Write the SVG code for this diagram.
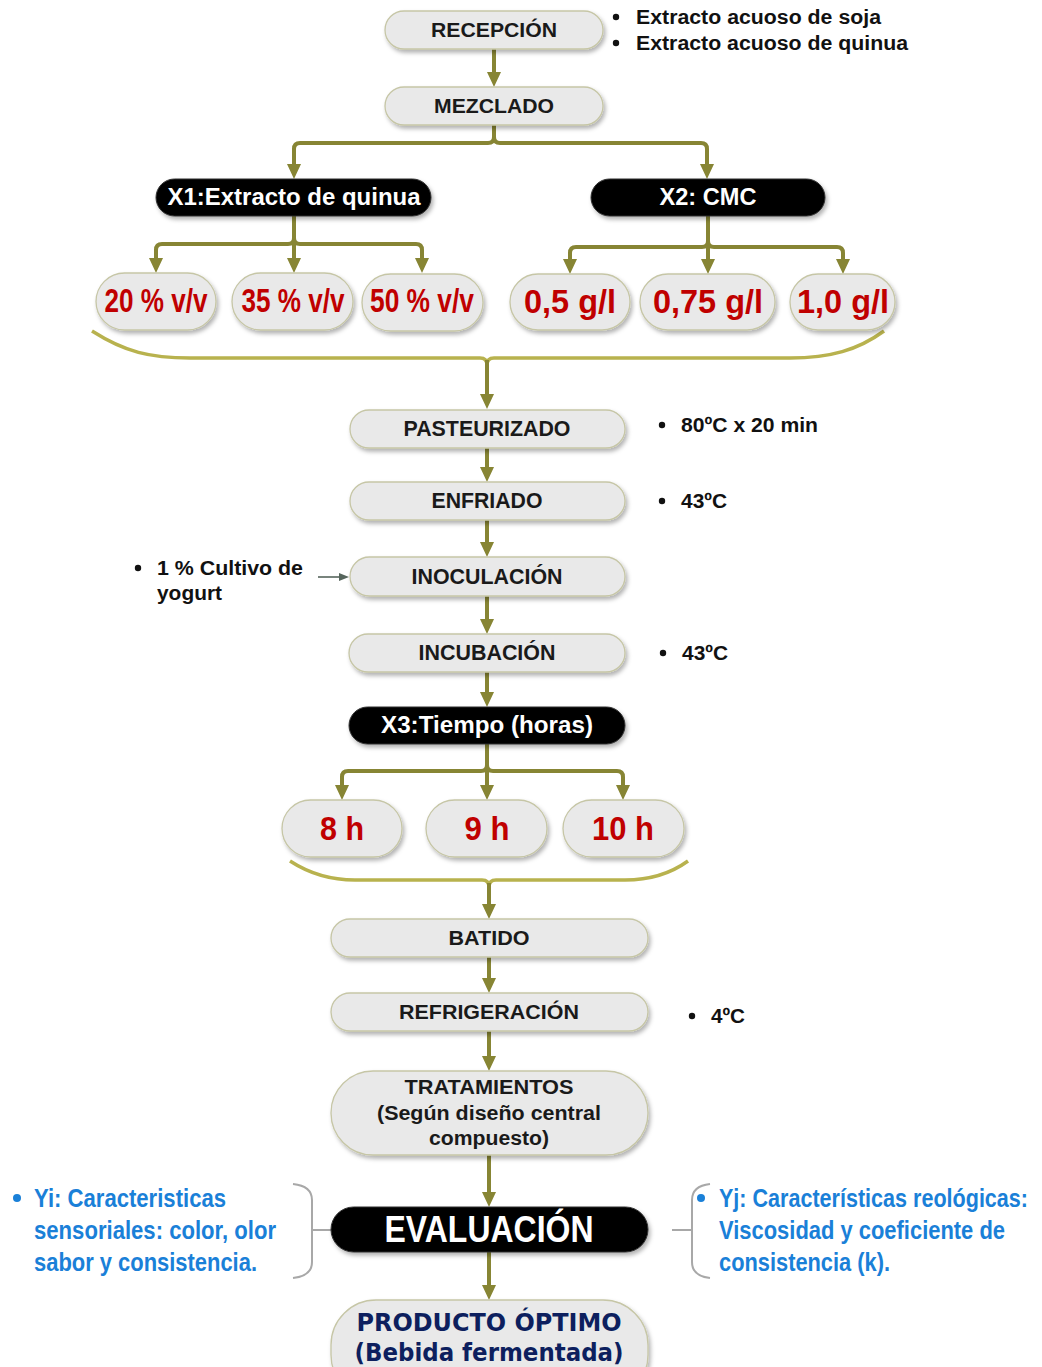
<svg xmlns="http://www.w3.org/2000/svg" width="1042" height="1367" viewBox="0 0 1042 1367">
<defs>
<filter id="sh" x="-10%" y="-20%" width="120%" height="150%">
<feDropShadow dx="2" dy="3" stdDeviation="2" flood-color="#000" flood-opacity="0.3"/>
</filter>
<marker id="ah" viewBox="0 0 15 14" refX="7" refY="7" markerWidth="15" markerHeight="14" markerUnits="userSpaceOnUse" orient="auto">
<path d="M0,0 L15,7 L0,14 z" fill="#878534"/>
</marker>
<marker id="ahg" viewBox="0 0 10 8" refX="4" refY="4" markerWidth="10" markerHeight="8" markerUnits="userSpaceOnUse" orient="auto">
<path d="M0,0 L10,4 L0,8 z" fill="#56655c"/>
</marker>
<style>
.n{fill:#e9e9e9;stroke:#c6c6a6;stroke-width:1.3;filter:url(#sh)}
.b{fill:#000;stroke:#333;stroke-width:1;filter:url(#sh)}
.t{font-family:"Liberation Sans",Arial,sans-serif;font-weight:bold;font-size:20px;fill:#1a1a1a;text-anchor:middle}
.tn{font-size:22px}
.w{font-family:"Liberation Sans",Arial,sans-serif;font-weight:bold;font-size:23px;fill:#fff;text-anchor:middle}
.ev{font-size:36px}
.r{font-family:"Liberation Sans",Arial,sans-serif;font-weight:bold;font-size:33px;fill:#c00000;text-anchor:middle}
.s{font-family:"Liberation Sans",Arial,sans-serif;font-weight:bold;font-size:20px;fill:#111}
.sn{font-size:21px}
.bl{font-family:"Liberation Sans",Arial,sans-serif;font-weight:bold;font-size:21px;fill:#1a80d8}
.pr{font-family:"DejaVu Sans","Liberation Sans",sans-serif;font-weight:bold;font-size:25px;fill:#0d1f5e;text-anchor:middle}
.c{fill:none;stroke:#878534;stroke-width:4;marker-end:url(#ah)}
.br{fill:none;stroke:#b8b24e;stroke-width:3.5}
.gb{fill:none;stroke:#a8a8a8;stroke-width:2}
</style>
</defs>

<g id="connectors">
<path class="c" d="M494 49 V79"/>
<path class="c" d="M494 125 V137 Q494 143 488 143 H300 Q294 143 294 149 V171"/>
<path class="c" d="M494 125 V137 Q494 143 500 143 H701 Q707 143 707 149 V171"/>
<path class="c" d="M294 216 V238 Q294 244 288 244 H162 Q156 244 156 250 V265"/>
<path class="c" d="M294 216 V265"/>
<path class="c" d="M294 238 Q294 244 300 244 H416 Q422 244 422 250 V265"/>
<path class="c" d="M708 216 V241 Q708 247 702 247 H576 Q570 247 570 253 V266"/>
<path class="c" d="M708 216 V266"/>
<path class="c" d="M708 241 Q708 247 714 247 H837 Q843 247 843 253 V266"/>
<path class="br" d="M92 331 C125 352 150 358 190 358 H480 Q487 358 487 365 Q487 358 494 358 H790 C830 358 858 350 884 331"/>
<path class="c" d="M487 360 V401"/>
<path class="c" d="M487 448 V474"/>
<path class="c" d="M487 520 V549"/>
<path class="c" d="M487 596 V626"/>
<path class="c" d="M487 672 V699"/>
<path class="c" d="M487 744 V765 Q487 771 481 771 H348 Q342 771 342 777 V792"/>
<path class="c" d="M487 744 V792"/>
<path class="c" d="M487 765 Q487 771 493 771 H617 Q623 771 623 777 V792"/>
<path class="br" d="M290 861 C310 874 330 880 355 880 H482 Q489 880 489 887 Q489 880 496 880 H625 C650 880 670 874 688 861"/>
<path class="c" d="M489 883 V911"/>
<path class="c" d="M489 957 V985"/>
<path class="c" d="M489 1031 V1063"/>
<path class="c" d="M489 1155 V1199"/>
<path class="c" d="M489 1252 V1292"/>
<path d="M318 577 H343" fill="none" stroke="#56655c" stroke-width="1.6" marker-end="url(#ahg)"/>
<path class="gb" d="M293 1184 Q312 1186 312 1200 V1262 Q312 1276 293 1278"/>
<path class="gb" d="M312 1230 H331"/>
<path class="gb" d="M710 1184 Q692 1186 692 1200 V1262 Q692 1276 710 1278"/>
<path class="gb" d="M672 1230 H692"/>
</g>

<g id="recepcion"><rect class="n" x="385" y="11" width="218" height="38" rx="19"/><text class="t" x="494" y="37" textLength="126" lengthAdjust="spacingAndGlyphs">RECEPCIÓN</text></g>
<g id="recepcion-notes">
<circle cx="616" cy="17" r="3.2" fill="#111"/><text class="s" x="636" y="24" textLength="245" lengthAdjust="spacingAndGlyphs">Extracto acuoso de soja</text>
<circle cx="616" cy="43" r="3.2" fill="#111"/><text class="s" x="636" y="50" textLength="272" lengthAdjust="spacingAndGlyphs">Extracto acuoso de quinua</text>
</g>
<g id="mezclado"><rect class="n" x="385" y="87" width="218" height="38" rx="19"/><text class="t" x="494" y="113" textLength="120" lengthAdjust="spacingAndGlyphs">MEZCLADO</text></g>

<g id="x1"><rect class="b" x="156" y="179" width="275" height="37" rx="18.5"/><text class="w" x="294" y="205" textLength="253" lengthAdjust="spacingAndGlyphs">X1:Extracto de quinua</text></g>
<g id="x2"><rect class="b" x="591" y="179" width="234" height="37" rx="18.5"/><text class="w" x="708" y="205" textLength="97" lengthAdjust="spacingAndGlyphs">X2: CMC</text></g>

<g id="o20"><rect class="n" x="96" y="273" width="120" height="57" rx="28.5"/><text class="r" x="156" y="312" textLength="103" lengthAdjust="spacingAndGlyphs">20 % v/v</text></g>
<g id="o35"><rect class="n" x="232" y="273" width="121" height="57" rx="28.5"/><text class="r" x="293" y="312" textLength="103" lengthAdjust="spacingAndGlyphs">35 % v/v</text></g>
<g id="o50"><rect class="n" x="362" y="274" width="121" height="57" rx="28.5"/><text class="r" x="422" y="312" textLength="104" lengthAdjust="spacingAndGlyphs">50 % v/v</text></g>
<g id="g05"><rect class="n" x="510" y="274" width="120" height="56" rx="28"/><text class="r" x="570" y="313" textLength="92" lengthAdjust="spacingAndGlyphs">0,5 g/l</text></g>
<g id="g075"><rect class="n" x="640" y="274" width="135" height="56" rx="28"/><text class="r" x="708" y="313" textLength="110" lengthAdjust="spacingAndGlyphs">0,75 g/l</text></g>
<g id="g10"><rect class="n" x="790" y="274" width="105" height="56" rx="28"/><text class="r" x="843" y="313" textLength="92" lengthAdjust="spacingAndGlyphs">1,0 g/l</text></g>

<g id="pasteurizado"><rect class="n" x="350" y="410" width="275" height="38" rx="19"/><text class="t tn" x="487" y="436" textLength="167" lengthAdjust="spacingAndGlyphs">PASTEURIZADO</text></g>
<g id="note-80"><circle cx="662" cy="425" r="3.2" fill="#111"/><text class="s sn" x="681" y="432" textLength="137" lengthAdjust="spacingAndGlyphs">80ºC x 20 min</text></g>
<g id="enfriado"><rect class="n" x="350" y="482" width="275" height="38" rx="19"/><text class="t tn" x="487" y="508" textLength="111" lengthAdjust="spacingAndGlyphs">ENFRIADO</text></g>
<g id="note-43a"><circle cx="662" cy="501" r="3.2" fill="#111"/><text class="s sn" x="681" y="508" textLength="46" lengthAdjust="spacingAndGlyphs">43ºC</text></g>
<g id="inoculacion"><rect class="n" x="350" y="557" width="275" height="39" rx="19.5"/><text class="t tn" x="487" y="584" textLength="151" lengthAdjust="spacingAndGlyphs">INOCULACIÓN</text></g>
<g id="note-cultivo"><circle cx="138" cy="568" r="3.2" fill="#111"/><text class="s sn" x="157" y="575" textLength="146" lengthAdjust="spacingAndGlyphs">1 % Cultivo de</text><text class="s sn" x="157" y="600" textLength="65" lengthAdjust="spacingAndGlyphs">yogurt</text></g>
<g id="incubacion"><rect class="n" x="349" y="634" width="276" height="38" rx="19"/><text class="t tn" x="487" y="660" textLength="137" lengthAdjust="spacingAndGlyphs">INCUBACIÓN</text></g>
<g id="note-43b"><circle cx="663" cy="653" r="3.2" fill="#111"/><text class="s sn" x="682" y="660" textLength="46" lengthAdjust="spacingAndGlyphs">43ºC</text></g>

<g id="x3"><rect class="b" x="349" y="707" width="276" height="37" rx="18.5"/><text class="w" x="487" y="733" textLength="212" lengthAdjust="spacingAndGlyphs">X3:Tiempo (horas)</text></g>

<g id="h8"><rect class="n" x="282" y="800" width="120" height="57" rx="28.5"/><text class="r" x="342" y="840" textLength="44" lengthAdjust="spacingAndGlyphs">8 h</text></g>
<g id="h9"><rect class="n" x="426" y="800" width="121" height="57" rx="28.5"/><text class="r" x="487" y="840" textLength="45" lengthAdjust="spacingAndGlyphs">9 h</text></g>
<g id="h10"><rect class="n" x="563" y="800" width="121" height="57" rx="28.5"/><text class="r" x="623" y="840" textLength="62" lengthAdjust="spacingAndGlyphs">10 h</text></g>

<g id="batido"><rect class="n" x="331" y="919" width="317" height="38" rx="19"/><text class="t" x="489" y="945" textLength="81" lengthAdjust="spacingAndGlyphs">BATIDO</text></g>
<g id="refrigeracion"><rect class="n" x="331" y="993" width="317" height="38" rx="19"/><text class="t" x="489" y="1019" textLength="180" lengthAdjust="spacingAndGlyphs">REFRIGERACIÓN</text></g>
<g id="note-4"><circle cx="692" cy="1016" r="3.2" fill="#111"/><text class="s" x="711" y="1023" textLength="34" lengthAdjust="spacingAndGlyphs">4ºC</text></g>
<g id="tratamientos"><rect class="n" x="331" y="1071" width="317" height="84" rx="42"/>
<text class="t" x="489" y="1094" textLength="169" lengthAdjust="spacingAndGlyphs">TRATAMIENTOS</text>
<text class="t" x="489" y="1120" textLength="224" lengthAdjust="spacingAndGlyphs">(Según diseño central</text>
<text class="t" x="489" y="1145" textLength="120" lengthAdjust="spacingAndGlyphs">compuesto)</text></g>

<g id="evaluacion"><rect class="b" x="331" y="1207" width="317" height="45" rx="22.5"/><text class="w ev" x="489" y="1242" textLength="209" lengthAdjust="spacingAndGlyphs">EVALUACIÓN</text></g>
<g id="yi"><circle cx="17" cy="1198" r="4" fill="#1a80d8"/>
<text class="bl" transform="translate(34 1207) scale(1 1.24)" textLength="192" lengthAdjust="spacingAndGlyphs">Yi: Caracteristicas</text>
<text class="bl" transform="translate(34 1239) scale(1 1.24)" textLength="242" lengthAdjust="spacingAndGlyphs">sensoriales: color, olor</text>
<text class="bl" transform="translate(34 1271) scale(1 1.24)" textLength="223" lengthAdjust="spacingAndGlyphs">sabor y consistencia.</text></g>
<g id="yj"><circle cx="701" cy="1198" r="4" fill="#1a80d8"/>
<text class="bl" transform="translate(719 1207) scale(1 1.24)" textLength="309" lengthAdjust="spacingAndGlyphs">Yj: Características reológicas:</text>
<text class="bl" transform="translate(719 1239) scale(1 1.24)" textLength="286" lengthAdjust="spacingAndGlyphs">Viscosidad y coeficiente de</text>
<text class="bl" transform="translate(719 1271) scale(1 1.24)" textLength="171" lengthAdjust="spacingAndGlyphs">consistencia (k).</text></g>

<g id="producto"><rect class="n" x="331" y="1300" width="317" height="100" rx="45"/>
<text class="pr" x="489" y="1331" textLength="265" lengthAdjust="spacingAndGlyphs">PRODUCTO ÓPTIMO</text>
<text class="pr" x="489" y="1361" textLength="269" lengthAdjust="spacingAndGlyphs">(Bebida fermentada)</text></g>
</svg>
